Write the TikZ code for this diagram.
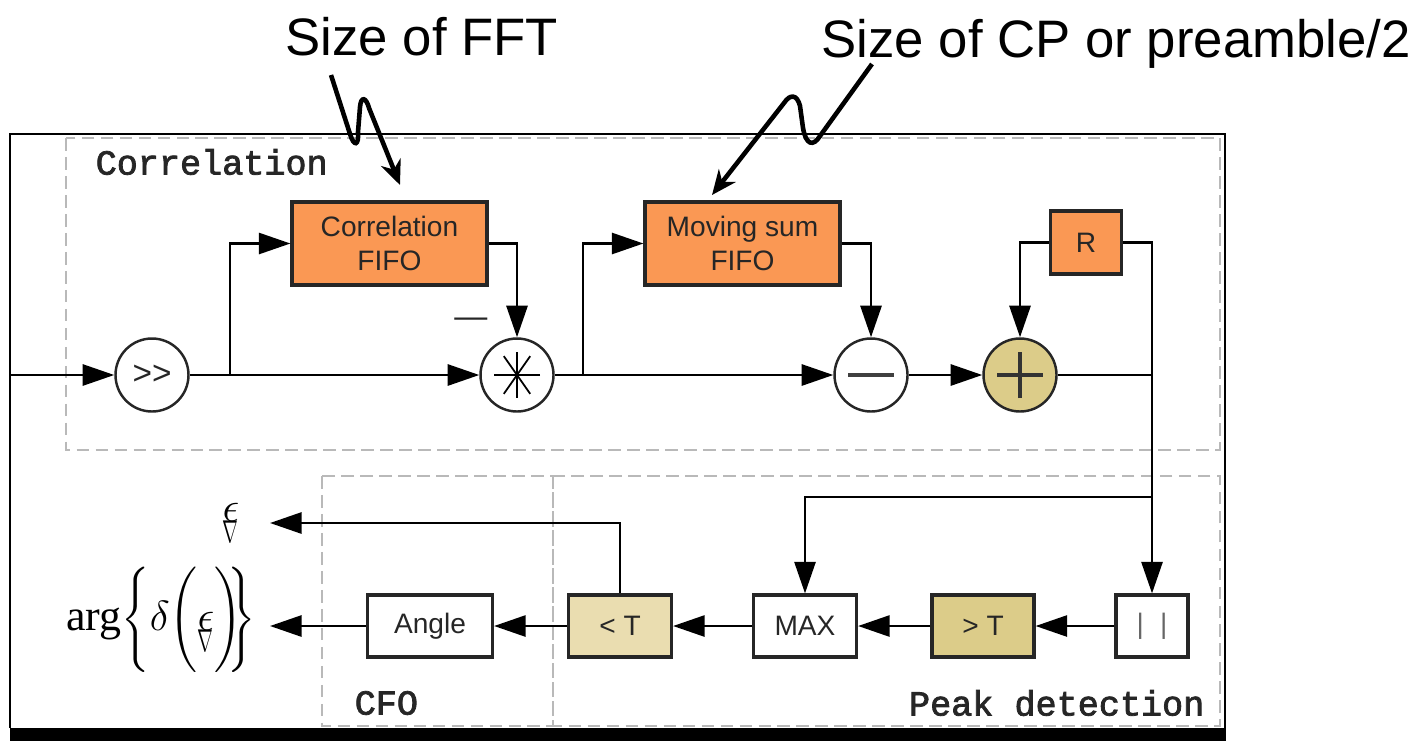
\documentclass[tikz,border=0pt]{standalone}
\usepackage{fontspec}
\setmainfont{Liberation Sans}
\newfontfamily\groupfont[FakeBold=2.2]{Liberation Mono}
\newfontfamily\timesfont{Liberation Serif}
\usetikzlibrary{arrows.meta}
\definecolor{fifoorange}{RGB}{250,152,84}
\definecolor{sumtan}{RGB}{220,204,137}
\definecolor{lighttan}{RGB}{234,221,176}
\definecolor{groupgray}{RGB}{185,185,185}
\newcommand{\epsv}{\mbox{\ooalign{$\epsilon$\cr\raisebox{-6pt}{\scalebox{0.45}[0.75]{$\nabla$}}\hidewidth\cr}}}
\begin{document}
\begin{tikzpicture}[x=0.1mm,y=-0.1mm,
  every node/.style={font=\fontsize{8}{9.6}\selectfont, text=black!85},
  block/.style={draw=black!85, line width=0.9pt, minimum height=6.2mm, inner sep=0pt},
  fifo/.style={block, fill=fifoorange, minimum width=19.5mm, minimum height=8.3mm, align=center},
  op/.style={circle, draw=black!85, line width=0.7pt, minimum size=7.3mm, inner sep=0pt},
  group/.style={draw=groupgray, line width=0.5pt, dash pattern=on 3.6pt off 1.8pt},
  grouplabel/.style={font=\groupfont\fontsize{10}{12}\selectfont, inner sep=0pt},
  note/.style={font=\fontsize{15}{18}\selectfont, text=black, inner sep=0pt},
  sig/.style={line width=0.75pt, -{Triangle[length=9pt,width=6pt]}},
  wire/.style={line width=0.75pt},
  annot/.style={line width=1.3pt, -{Stealth[length=7pt,width=6pt]}}]
\useasboundingbox (0,0) rectangle (1423,741);
% frame and groups
\fill[black] (10,728) rectangle (1226,741);
\draw[line width=0.8pt] (10,728) -- (10,134) -- (1225,134) -- (1225,728);
\draw[group] (66,138) rectangle (1220,450);
\draw[group] (322,476) rectangle (553,726);
\draw[group] (553,476) rectangle (1220,726);
\node[grouplabel, anchor=west] (corrlbl) at (95,162) {Correlation};
\node[grouplabel, anchor=west] (cfolbl) at (354,703) {CFO};
\node[grouplabel, anchor=east] (peaklbl) at (1205,703) {Peak detection};
% correlation row
\node[op, font=\fontsize{9.5}{11}\selectfont] (shift) at (152,375) {>{}>};
\node[fifo] (corr) at (389.5,243.5) {Correlation\\FIFO};
\node[op] (mult) at (517,375) {};
\node[fifo] (movsum) at (742.5,243.5) {Moving sum\\FIFO};
\node[op] (sub) at (871,375) {};
\node[op, fill=sumtan] (add) at (1020,375) {};
\node[block, fill=fifoorange, minimum width=7.1mm, minimum height=6.3mm] (reg) at (1086,242.5) {R};
\node[font=\fontsize{9.4}{11}\selectfont] (minus) at (471,323) {—};
\foreach \a in {0,55,90,125}
  \draw[line width=0.5pt] ([shift={(\a:2.3mm)}]mult.center) -- ([shift={(\a+180:2.3mm)}]mult.center);
\draw[line width=1pt, black!75] ([xshift=-2.3mm]sub.center) -- ([xshift=2.3mm]sub.center);
\draw[line width=1pt, black!80] ([xshift=-2.3mm]add.center) -- ([xshift=2.3mm]add.center);
\draw[line width=1pt, black!80] ([yshift=-2.3mm]add.center) -- ([yshift=2.3mm]add.center);
% detection row
\node[block, minimum width=7.2mm, text=black!60] (abs) at (1152,626) {|\hspace{4.6pt}|};
\node[block, fill=sumtan, minimum width=10.2mm] (gt) at (983,626) {> T};
\node[block, minimum width=10.3mm] (max) at (805,626) {MAX};
\node[block, fill=lighttan, minimum width=10.3mm] (lt) at (620,626) {< T};
\node[block, minimum width=12.5mm] (angle) at (430,626) {Angle};
\node[anchor=east, inner xsep=3mm, font=\fontsize{12.5}{15}\selectfont, text=black] (eps) at (270,523) {$\epsv$};
\node[anchor=east, inner xsep=1.3mm, font=\fontsize{12.5}{15}\selectfont, text=black] (argout) at (270,620)
  {\timesfont arg$\Bigg\{\delta\Bigg(\epsv\Bigg)\!\!\Bigg\}$};
% connectors
\coordinate (in) at (10,375);
\coordinate (tap1) at (230,375);
\coordinate (tap2) at (583,375);
\coordinate (tap3) at (1152,375);
\coordinate (tap4) at (1152,497);
\draw[sig] (in) -- (shift);
\draw[sig] (shift) -- (mult);
\draw[sig] (tap1) |- (corr.west);
\draw[sig] (corr.east) -| (mult.north);
\draw[sig] (mult) -- (sub);
\draw[sig] (tap2) |- (movsum.west);
\draw[sig] (movsum.east) -| (sub.north);
\draw[sig] (sub) -- (add);
\draw[sig] (reg.west) -| (add.north);
\draw[wire] (add) -- (tap3);
\draw[sig] (reg.east) -| (abs.north);
\draw[sig] (tap4) -| (max.north);
\draw[sig] (abs) -- (gt);
\draw[sig] (gt) -- (max);
\draw[sig] (max) -- (lt);
\draw[sig] (lt) -- (angle);
\draw[sig] (angle.west) -- (argout.east |- angle.west);
\draw[sig] (lt.north) |- (eps.east);
% notes
\node[note, anchor=base west] (fftnote) at (285,55) {Size of FFT};
\node[note, anchor=base west] (cpnote) at (821,57) {Size of CP or preamble/2};
\coordinate (fftfrom) at (331,75);
\coordinate (fftto) at (400,185);
\coordinate (cpfrom) at (872,64);
\coordinate (cpto) at (712,195);
\draw[annot] (fftfrom) -- (350,134) .. controls (354,147) and (359,146) .. (358,132)
  -- (360,107) .. controls (361,96) and (366,97) .. (369,108) -- (fftto);
\draw[annot] (cpfrom) -- (820,136) .. controls (813,147) and (806,145) .. (803,128)
  -- (800,106) .. controls (797,94) and (790,94) .. (784,103) -- (cpto);
\end{tikzpicture}
\end{document}
